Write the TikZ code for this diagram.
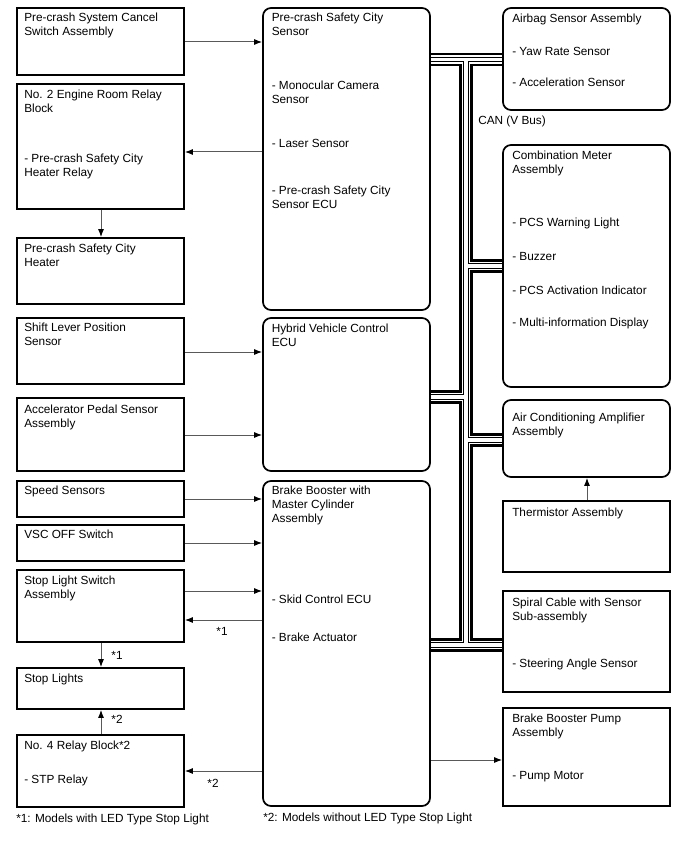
\documentclass[tikz,border=0pt]{standalone}
\usepackage{fontspec}
\setmainfont{Liberation Sans}
\usetikzlibrary{arrows.meta,fit}
\newcommand\dfont{\fontsize{8.85pt}{10.5pt}\selectfont}
\begin{document}
\begin{tikzpicture}[x=0.75pt,y=-0.75pt,
  sbox/.style={draw=black,line width=1.3pt,fill=white,inner sep=0pt},
  rbox/.style={sbox,rounded corners=6pt},
  txt/.style={anchor=north west,inner sep=0pt,align=left,font=\dfont},
  lbl/.style={anchor=center,inner sep=0pt,font=\dfont},
  arr/.style={draw=black!65,line width=0.75pt,-{Latex[length=6pt,width=4.5pt,black]}},
  busA/.style={draw=black,line width=10.25pt},
  busB/.style={draw=white,line width=6.2pt},
  busC/.style={draw=black,line width=3.9pt},
  busD/.style={draw=white,line width=2.3pt}]
\useasboundingbox (0,0) rectangle (688,852);

% ---------- box coordinates (for fit) ----------
\coordinate (pcsA) at (263,8);   \coordinate (pcsB) at (430,310);
\coordinate (hvA) at (263,318);  \coordinate (hvB) at (430,471);
\coordinate (brA) at (263,481);  \coordinate (brB) at (430,806);

% ---------- CAN bus ----------
\foreach \st in {busA,busB,busC,busD}{
  \draw[\st] (430,59.5) -- (503,59.5);
  \draw[\st] (466,59.5) -- (466,645);
  \draw[\st] (466,266) -- (503,266);
  \draw[\st] (430,397) -- (466,397);
  \draw[\st] (466,440) -- (503,440);
  \draw[\st] (430,645) -- (503,645);
}

% ---------- left column ----------
\node[sbox,fit={(17,8) (184,75)}] (cancel) {};
\node[sbox,fit={(17,84) (184,209)}] (relayB) {};
\node[sbox,fit={(17,238) (184,304)}] (heater) {};
\node[sbox,fit={(17,318) (184,384)}] (shift) {};
\node[sbox,fit={(17,398) (184,471)}] (accel) {};
\node[sbox,fit={(17,481) (184,517)}] (speed) {};
\node[sbox,fit={(17,525) (184,561)}] (vsc) {};
\node[sbox,fit={(17,570) (184,642)}] (stopsw) {};
\node[sbox,fit={(17,668) (184,709)}] (stoplt) {};
\node[sbox,fit={(17,735) (184,807)}] (relay4) {};

% ---------- middle column ----------
\node[rbox,fit=(pcsA) (pcsB)] (pcs) {};
\node[rbox,fit=(hvA) (hvB)] (hv) {};
\node[rbox,fit=(brA) (brB)] (brake) {};

% ---------- right column ----------
\node[rbox,fit={(503,8) (670,110)}] (airbag) {};
\node[rbox,fit={(503,145) (670,387)}] (meter) {};
\node[rbox,fit={(503,400) (670,477)}] (acamp) {};
\node[sbox,fit={(503,501) (670,572)}] (therm) {};
\node[sbox,fit={(503,591) (670,692)}] (spiral) {};
\node[sbox,fit={(503,708) (670,806)}] (pump) {};

% ---------- texts: left ----------
\node[txt] (tcancel) at (24,12.7) {Pre-crash System Cancel\\Switch Assembly};
\node[txt] (trelayB1) at (24,89.7) {No. 2 Engine Room Relay\\Block};
\node[txt] (trelayB2) at (24,153.7) {- Pre-crash Safety City\\Heater Relay};
\node[txt] (theater) at (24,243.7) {Pre-crash Safety City\\Heater};
\node[txt] (tshift) at (24,322.7) {Shift Lever Position\\Sensor};
\node[txt] (taccel) at (24,404.7) {Accelerator Pedal Sensor\\Assembly};
\node[txt] (tspeed) at (24,485.7) {Speed Sensors};
\node[txt] (tvsc) at (24,529.7) {VSC OFF Switch};
\node[txt] (tstopsw) at (24,575.7) {Stop Light Switch\\Assembly};
\node[txt] (tstoplt) at (24,673.7) {Stop Lights};
\node[txt] (trelay41) at (24,740.7) {No. 4 Relay Block*2};
\node[txt] (trelay42) at (24,774.7) {- STP Relay};
\node[txt] (tfoot1) at (16,813.7) {*1: Models with LED Type Stop Light};

% ---------- texts: middle ----------
\node[txt] (tpcs1) at (271.5,12.7) {Pre-crash Safety City\\Sensor};
\node[txt] (tpcs2) at (271.5,80.7) {- Monocular Camera\\Sensor};
\node[txt] (tpcs3) at (271.5,138.7) {- Laser Sensor};
\node[txt] (tpcs4) at (271.5,185.7) {- Pre-crash Safety City\\Sensor ECU};
\node[txt] (thv) at (271.5,323.7) {Hybrid Vehicle Control\\ECU};
\node[txt] (tbr1) at (271.5,485.7) {Brake Booster with\\Master Cylinder\\Assembly};
\node[txt] (tbr2) at (271.5,594.7) {- Skid Control ECU};
\node[txt] (tbr3) at (271.5,632.7) {- Brake Actuator};
\node[txt] (tfoot2) at (263,812.7) {*2: Models without LED Type Stop Light};

% ---------- texts: right ----------
\node[txt] (tair1) at (512,13.2) {Airbag Sensor Assembly};
\node[txt] (tair2) at (512,46.7) {- Yaw Rate Sensor};
\node[txt] (tair3) at (512,77.7) {- Acceleration Sensor};
\node[txt] (tcan) at (478,115.7) {CAN (V Bus)};
\node[txt] (tmet1) at (512,150.7) {Combination Meter\\Assembly};
\node[txt] (tmet2) at (512,217.7) {- PCS Warning Light};
\node[txt] (tmet3) at (512,251.7) {- Buzzer};
\node[txt] (tmet4) at (512,285.7) {- PCS Activation Indicator};
\node[txt] (tmet5) at (512,317.7) {- Multi-information Display};
\node[txt] (tac) at (512,412.7) {Air Conditioning Amplifier\\Assembly};
\node[txt] (ttherm) at (512,507.2) {Thermistor Assembly};
\node[txt] (tsp1) at (512,597.7) {Spiral Cable with Sensor\\Sub-assembly};
\node[txt] (tsp2) at (512,658.7) {- Steering Angle Sensor};
\node[txt] (tpump1) at (512,713.7) {Brake Booster Pump\\Assembly};
\node[txt] (tpump2) at (512,770.7) {- Pump Motor};

% ---------- connectors ----------
\draw[arr] (cancel.east |- 0,42) -- (pcs.west |- 0,42);
\draw[arr] (pcs.west |- 0,152) -- (relayB.east |- 0,152);
\draw[arr] (relayB.south -| 101,0) -- (heater.north -| 101,0);
\draw[arr] (shift.east |- 0,352) -- (hv.west |- 0,352);
\draw[arr] (accel.east |- 0,435) -- (hv.west |- 0,435);
\draw[arr] (speed.east |- 0,499) -- (brake.west |- 0,499);
\draw[arr] (vsc.east |- 0,543) -- (brake.west |- 0,543);
\draw[arr] (stopsw.east |- 0,591) -- (brake.west |- 0,591);
\draw[arr] (brake.west |- 0,620) -- (stopsw.east |- 0,620);
\draw[arr] (stopsw.south -| 101,0) -- (stoplt.north -| 101,0);
\draw[arr] (relay4.north -| 101,0) -- (stoplt.south -| 101,0);
\draw[arr] (brake.west |- 0,771) -- (relay4.east |- 0,771);
\draw[arr] (brake.east |- 0,760) -- (pump.west |- 0,760);
\draw[arr] (therm.north -| 587,0) -- (acamp.south -| 587,0);

% ---------- connector labels ----------
\node[lbl] (l1a) at (222,631) {*1};
\node[lbl] (l1b) at (117,655) {*1};
\node[lbl] (l2a) at (117,719) {*2};
\node[lbl] (l2b) at (213,783) {*2};
\end{tikzpicture}
\end{document}
